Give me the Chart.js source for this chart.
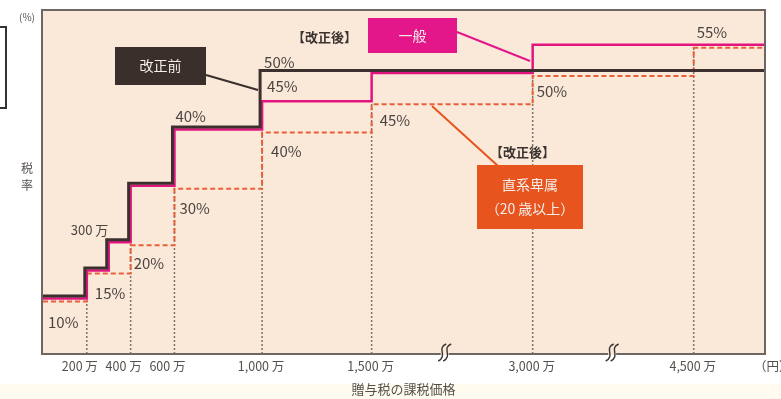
<!DOCTYPE html>
<html>
<head>
<meta charset="utf-8">
<script src="https://cdn.jsdelivr.net/npm/chart.js@4.4.1/dist/chart.umd.min.js"></script>
<style>
  html, body { margin: 0; padding: 0; background: #fff; }
  #wrap { position: relative; width: 781px; height: 399px; }
</style>
</head>
<body>
<div id="wrap"><canvas id="c" width="781" height="399"></canvas></div>
<script>
// 贈与税の税率（万円）
const oldStarts = [0, 200, 300, 400, 600, 1000];
const oldRates = [10, 15, 20, 30, 40, 50];
const generalStarts = [0, 200, 300, 400, 600, 1000, 1500, 3000];
const generalRates = [10, 15, 20, 30, 40, 45, 50, 55];
const specialStarts = [0, 200, 400, 600, 1000, 1500, 3000, 4500];
const specialRates = [10, 15, 20, 30, 40, 45, 50, 55];
const tickAmounts = [200, 400, 600, 1000, 1500, 3000, 4500];
const tickLabels = ["200 万", "400 万", "600 万", "1,000 万", "1,500 万", "3,000 万", "4,500 万"];

// axis is broken above 1,500万 (compressed)
const X_MAX = 3300;
function pos(a) { return a <= 1500 ? a : 1500 + (a - 1500) * 0.49; }

function steps(starts, rates) {
    const pts = starts.map((s, i) => ({ x: pos(s), y: rates[i] }));
    pts.push({ x: X_MAX, y: rates[rates.length - 1] });
    return pts;
}
function guides() {
    const pts = [];
    specialStarts.slice(1).forEach((s, i) => {
        pts.push({ x: pos(s), y: 0 }, { x: pos(s), y: specialRates[i + 1] }, { x: pos(s), y: null });
    });
    return pts;
}

const JP = '"Noto Sans CJK JP", "Noto Sans", sans-serif';
const textCol = "#4a4440";

const offsetPlugin = {
    id: "offsets",
    beforeDatasetDraw(chart, args) {
        const off = chart.data.datasets[args.index].offset || [0, 0];
        chart.ctx.save();
        chart.ctx.translate(off[0], off[1]);
    },
    afterDatasetDraw(chart) { chart.ctx.restore(); }
};

const decor = {
    id: "decor",
    beforeDraw(chart) {
        const { ctx, chartArea: a } = chart;
        ctx.save();
        ctx.fillStyle = "#fffbee";
        ctx.fillRect(0, 384, chart.width, chart.height - 384);
        ctx.fillStyle = "#fae8d9";
        ctx.fillRect(a.left, a.top, a.right - a.left, a.bottom - a.top);
        ctx.restore();
    },
    afterDatasetsDraw(chart) {
        const { ctx, chartArea: a, scales: { x, y } } = chart;
        ctx.save();
        // frame
        ctx.strokeStyle = "#6e6661";
        ctx.lineWidth = 2;
        ctx.strokeRect(a.left, a.top, a.right - a.left, a.bottom - a.top);
        // cut-off box at far left
        ctx.strokeStyle = "#333";
        ctx.strokeRect(-10, 27, 16, 81);

        // break marks on the x axis
        [pos(1500) + (pos(3000) - pos(1500)) * 0.46, (pos(3000) + pos(4500)) / 2].forEach(v => {
            const bx = x.getPixelForValue(v), by = a.bottom - 1;
            ctx.fillStyle = "#fae8d9";
            ctx.fillRect(bx - 4, by - 2, 8, 4);
            ctx.strokeStyle = "#3a3330";
            ctx.lineWidth = 1.4;
            [-2.5, 2.5].forEach(o => {
                ctx.beginPath();
                ctx.moveTo(bx + o + 4, by - 9);
                ctx.bezierCurveTo(bx + o - 6, by - 5, bx + o + 6, by + 3, bx + o - 4, by + 8);
                ctx.stroke();
            });
        });

        // x tick labels
        ctx.fillStyle = "#55504c";
        ctx.font = "12.5px " + JP;
        ctx.textAlign = "center";
        ctx.textBaseline = "middle";
        tickAmounts.forEach((t, i) => {
            const shift = t < 1000 ? -6 : 0;
            ctx.fillText(tickLabels[i], x.getPixelForValue(pos(t)) + shift, 366);
        });
        ctx.textAlign = "left";
        ctx.fillText("（円）", 754, 366);
        ctx.textAlign = "center";
        ctx.font = "13px " + JP;
        ctx.fillText("贈与税の課税価格", (a.left + a.right) / 2, 389);
        ctx.font = "10px " + JP;
        ctx.fillText("(%)", 27, 17);
        ctx.font = "12px " + JP;
        ctx.fillText("税", 27, 168);
        ctx.fillText("率", 27, 185);

        // rate labels anchored on the steps
        ctx.fillStyle = textCol;
        ctx.font = "15px " + JP;
        ctx.textAlign = "left";
        const lab = (amt, rate, txt, dx, dy) =>
            ctx.fillText(txt, x.getPixelForValue(pos(amt)) + dx, y.getPixelForValue(rate) + dy);
        lab(0, 10, "10%", 6, 25);
        lab(200, 15, "15%", 9, 24);
        lab(400, 20, "20%", 4, 22);
        lab(600, 30, "30%", 6, 23);
        lab(600, 40, "40%", 2, -12);
        lab(1000, 40, "40%", 10, 23);
        lab(1000, 50, "50%", 3, -10);
        lab(1000, 45, "45%", 6, -14);
        lab(1500, 45, "45%", 9, 20);
        lab(3000, 50, "50%", 5, 19);
        lab(4500, 55, "55%", 4, -12);
        ctx.font = "13px " + JP;
        lab(300, 20, "300 万", -37, -11);

        // callouts
        const box = (l, t, w, h, fill, lines, lineFrom, lineTo) => {
            ctx.strokeStyle = fill;
            ctx.lineWidth = 2;
            ctx.beginPath();
            ctx.moveTo(lineFrom[0], lineFrom[1]);
            ctx.lineTo(lineTo[0], lineTo[1]);
            ctx.stroke();
            ctx.fillStyle = fill;
            ctx.fillRect(l, t, w, h);
            ctx.fillStyle = "#f6eeea";
            ctx.font = "14px " + JP;
            ctx.textAlign = "center";
            lines.forEach((s, i) => ctx.fillText(s, l + w / 2, t + h / 2 + (i - (lines.length - 1) / 2) * 24));
        };
        box(115, 47, 91, 38, "#3a2f2b", ["改正前"], [206, 75], [258, 90]);
        box(368, 18, 89, 35, "#e3168a", ["一般"], [457, 32], [530, 61]);
        box(477, 165, 106, 64, "#e8541e", ["直系卑属", "（20 歳以上）"], [432, 106], [498, 166]);

        ctx.fillStyle = "#3a3330";
        ctx.font = "bold 13px " + JP;
        ctx.textAlign = "left";
        ctx.fillText("【改正後】", 292, 37);
        ctx.fillText("【改正後】", 490, 152);
        ctx.restore();
    }
};

new Chart(document.getElementById("c"), {
    type: "line",
    data: {
        datasets: [
            { label: "改正前", data: steps(oldStarts, oldRates), borderColor: "#3b302d", borderWidth: 3, offset: [-1, -1.5] },
            { label: "改正後 一般", data: steps(generalStarts, generalRates), borderColor: "#e2157e", borderWidth: 2.5, offset: [1, 1] },
            { label: "改正後 直系卑属", data: steps(specialStarts, specialRates), borderColor: "#e8603a", borderWidth: 2, borderDash: [5, 3], offset: [1, 4] },
            { label: "guides", data: guides(), borderColor: "#7a7570", borderWidth: 1.5, borderDash: [2, 2], stepped: false, offset: [1, 0] }
        ]
    },
    options: {
        responsive: false,
        animation: false,
        layout: { padding: { left: 42, top: 10, right: 16, bottom: 45 } },
        datasets: { line: { stepped: "before", pointRadius: 0, tension: 0, fill: false, spanGaps: false } },
        plugins: { legend: { display: false }, tooltip: { enabled: false } },
        scales: {
            x: { type: "linear", min: 0, max: X_MAX, display: false },
            y: { type: "linear", min: 0, max: 61, display: false }
        }
    },
    plugins: [offsetPlugin, decor]
});
</script>
</body>
</html>
